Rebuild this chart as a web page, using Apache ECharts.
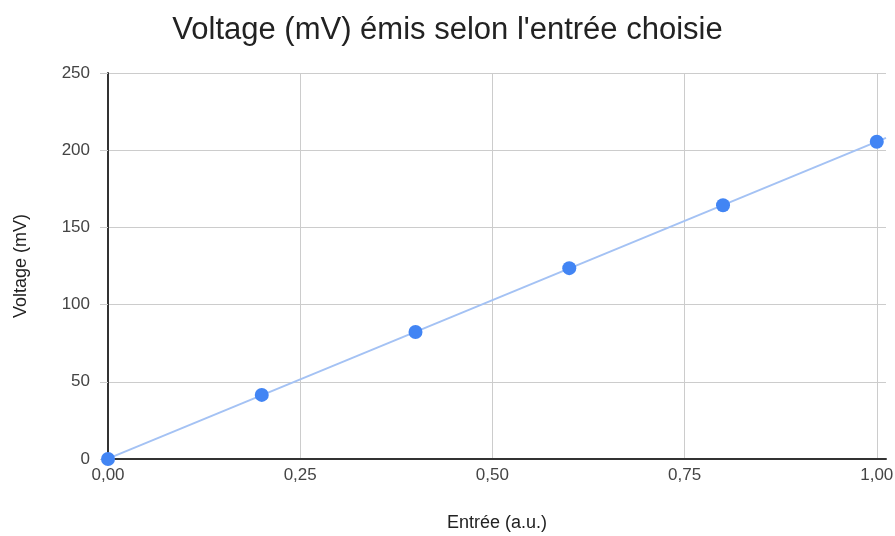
<!DOCTYPE html>
<html>
<head>
<meta charset="utf-8">
<script src="https://cdn.jsdelivr.net/npm/echarts@6/dist/echarts.min.js"></script>
<style>html,body{margin:0;padding:0;background:#fff}#c{width:895px;height:536px}</style>
</head>
<body>
<div id="c"></div>
<script>
var title = "Voltage (mV) émis selon l'entrée choisie";
var xName = "Entrée (a.u.)";
var yName = "Voltage (mV)";
var xValues = [0, 0.2, 0.4, 0.6, 0.8, 1.0];
var yValues = [0, 41.5, 82.3, 123.6, 164.3, 205.5];
var xMax = 1.012;

// least-squares trendline
var n = xValues.length, sx = 0, sy = 0, sxx = 0, sxy = 0;
for (var i = 0; i < n; i++) { sx += xValues[i]; sy += yValues[i]; sxx += xValues[i]*xValues[i]; sxy += xValues[i]*yValues[i]; }
var slope = (n*sxy - sx*sy) / (n*sxx - sx*sx);
var icpt = (sy - slope*sx) / n;
var trend = [[0, icpt], [xMax, icpt + slope*xMax]];

var points = xValues.map(function (x, i) { return [x, yValues[i]]; });
var font = '"Liberation Sans", Arial, sans-serif';

var chart = echarts.init(document.getElementById('c'), null, {renderer: 'canvas'});
chart.setOption({
  animation: false,
  backgroundColor: '#fff',
  title: {
    text: title, left: 'center', top: 10,
    textStyle: {fontFamily: font, fontSize: 31, fontWeight: 'normal', color: '#222'}
  },
  grid: {left: 108, top: 73, right: 9, bottom: 77, containLabel: false, outerBoundsMode: 'none'},
  xAxis: {
    type: 'value', min: 0, max: xMax, interval: 0.25,
    name: xName, nameLocation: 'middle', nameGap: 55,
    nameTextStyle: {fontFamily: font, fontSize: 18, color: '#222'},
    axisLine: {show: true, onZero: false, lineStyle: {color: '#333', width: 2}},
    axisTick: {show: false},
    axisLabel: {
      fontFamily: font, fontSize: 17, color: '#444', margin: 8, showMaxLabel: false,
      formatter: function (v) { return Math.abs(v % 0.25) > 1e-6 && Math.abs(v % 0.25 - 0.25) > 1e-6 ? '' : v.toFixed(2).replace('.', ','); }
    },
    splitLine: {show: true, showMaxLine: false, lineStyle: {color: '#ccc', width: 1}}
  },
  yAxis: {
    type: 'value', min: 0, max: 250, interval: 50,
    name: yName, nameLocation: 'middle', nameGap: 78, nameRotate: 90,
    nameTextStyle: {fontFamily: font, fontSize: 18, color: '#222'},
    axisLine: {show: true, lineStyle: {color: '#333', width: 2}},
    axisTick: {show: true, length: 8, lineStyle: {color: '#ccc'}},
    axisLabel: {fontFamily: font, fontSize: 17, color: '#444', margin: 18},
    splitLine: {show: true, lineStyle: {color: '#ccc', width: 1}}
  },
  series: [
    {
      type: 'line', data: trend, symbol: 'none', silent: true,
      lineStyle: {color: '#a4c2f4', width: 2}, z: 2
    },
    {
      type: 'scatter', data: points, symbolSize: 14,
      itemStyle: {color: '#4285f4', opacity: 1}, z: 3
    }
  ]
});
</script>
</body>
</html>
